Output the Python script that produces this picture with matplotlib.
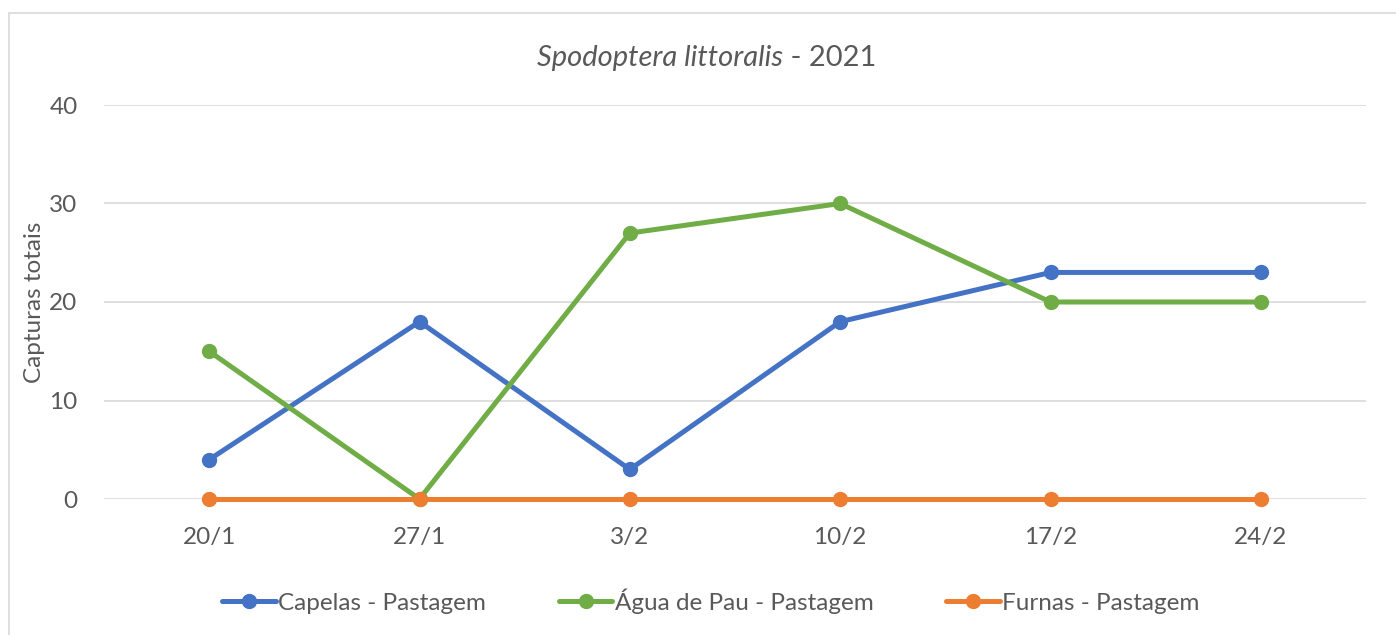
import matplotlib
matplotlib.use("Agg")
import matplotlib.pyplot as plt
from matplotlib.patches import Rectangle

dates = ["20/1", "27/1", "3/2", "10/2", "17/2", "24/2"]
capelas = [4, 18, 3, 18, 23, 23]
agua_de_pau = [15, 0, 27, 30, 20, 20]
furnas = [0, 0, 0, 0, 0, 0]
series_names = ["Capelas - Pastagem", "Água de Pau - Pastagem", "Furnas - Pastagem"]
colors = ["#4472C4", "#70AD47", "#ED7D31"]

plt.rcParams['font.family'] = ['Lato', 'DejaVu Sans']
txt = "#595959"

fig = plt.figure(figsize=(13.96, 6.35), dpi=100)
fig.patches.append(Rectangle((9/1396, -0.01), 1.02, (635-13)/635 + 0.01, transform=fig.transFigure,
                             fill=False, edgecolor="#D9D9D9", linewidth=1.2))
ax = fig.add_axes([104/1396, 136/635, 1262/1396, 394/635])

x = list(range(len(dates)))
for vals, name, c in zip([capelas, agua_de_pau, furnas], series_names, colors):
    ax.plot(x, vals, color=c, linewidth=3.6, marker='o', markersize=10, label=name,
            solid_capstyle='round', clip_on=False)

ax.set_xlim(-0.5, len(dates) - 0.5)
ax.set_ylim(0, 40)
ax.set_yticks([0, 10, 20, 30, 40])
ax.set_xticks(x)
ax.set_xticklabels(dates)
ax.tick_params(axis='both', length=0, labelsize=17.5, colors=txt)
ax.tick_params(axis='y', pad=19)
ax.tick_params(axis='x', pad=20)
ax.grid(axis='y', color="#D9D9D9", linewidth=1.2)
ax.set_axisbelow(True)
for s in ax.spines.values():
    s.set_visible(False)

ax.set_ylabel("Capturas totais", fontsize=17.5, color=txt)
ax.yaxis.set_label_coords(-0.047, 0.5)

# title: italic species name + plain year, centred as a whole
t1 = fig.text(0, 577/635, "Spodoptera littoralis", style='italic', ha='left', va='center',
              color=txt, fontsize=21)
t2 = fig.text(0, 577/635, " - 2021", ha='left', va='center', color=txt, fontsize=21)
r = fig.canvas.get_renderer()
w1 = t1.get_window_extent(r).width / fig.bbox.width
w2 = t2.get_window_extent(r).width / fig.bbox.width
x0 = 707/1396 - (w1 + w2) / 2
t1.set_x(x0)
t2.set_x(x0 + w1)

ax.legend(loc='center', bbox_to_anchor=(711/1396, 34/635), bbox_transform=fig.transFigure,
          ncol=3, frameon=False, fontsize=17.5, labelcolor=txt, handlelength=2.2,
          handletextpad=0.1, columnspacing=3.0)

fig.savefig("out.png", dpi=100)
